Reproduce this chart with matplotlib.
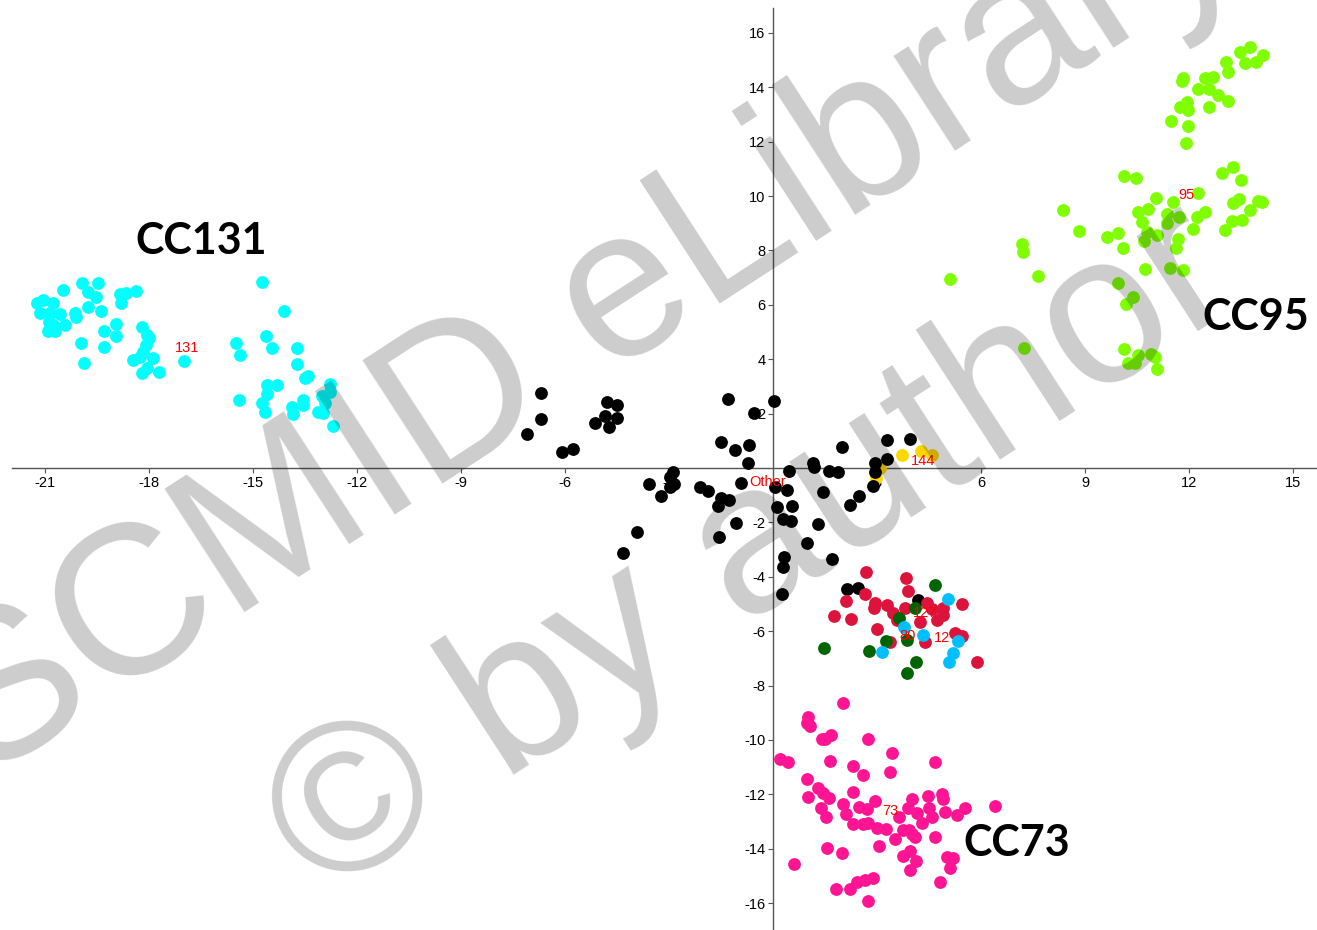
import numpy as np
import matplotlib.pyplot as plt

plt.rcParams['font.family'] = ['Liberation Sans', 'DejaVu Sans']
plt.rcParams['axes.unicode_minus'] = False

# CC131 (cyan)
cc131_x = [-21.23, -21.06, -20.77, -20.48, -19.93, -19.47, -19.76, -19.53, -18.83, -18.66,
           -18.37, -18.81, -21.14, -20.85, -20.57, -20.13, -20.10, -20.88, -20.77, -20.42,
           -20.91, -20.71, -19.76, -19.38, -18.95, -19.30, -18.95, -18.20, -18.06, -18.00,
           -19.96, -19.30, -18.08, -18.17, -18.26, -18.46, -17.88, -19.87, -18.06, -18.20,
           -17.71, -16.99, -14.74, -14.10, -15.49, -15.37, -14.62, -14.45, -13.73, -13.73,
           -13.50, -13.41, -14.59, -14.31, -14.59, -15.40, -14.74, -14.65, -13.87, -13.84,
           -13.56, -13.56, -13.01, -12.78, -12.78, -12.92, -13.12, -12.98, -12.69]
cc131_y = [6.07, 6.18, 6.07, 6.55, 6.80, 6.80, 6.47, 6.29, 6.40, 6.44,
           6.51, 6.07, 5.70, 5.70, 5.66, 5.70, 5.55, 5.37, 5.26, 5.26,
           5.04, 5.04, 5.92, 5.77, 5.30, 5.04, 4.85, 5.19, 4.89, 4.78,
           4.60, 4.45, 4.52, 4.27, 4.08, 3.97, 4.05, 3.86, 3.68, 3.49,
           3.53, 3.94, 6.84, 5.77, 4.60, 4.16, 4.85, 4.41, 4.41, 3.82,
           3.31, 3.38, 3.05, 3.05, 2.72, 2.50, 2.39, 2.06, 2.24, 1.99,
           2.50, 2.32, 2.65, 3.09, 2.80, 2.39, 2.06, 2.02, 1.54]

# "Other" (black)
other_x = [-6.69, -6.69, -7.10, -6.09, -5.77, -4.79, -4.50, -4.85, -4.50, -5.13,
           -4.73, -1.30, 0.03, -0.55, -1.50, -1.10, -0.69, -0.72, -2.88, -2.97,
           -3.58, -2.86, -2.97, -3.23, -2.11, -1.87, -1.50, -1.27, -1.59, -0.92,
           -1.07, -1.56, -3.92, -4.33, 0.46, 0.06, 0.40, 0.12, 0.55, 0.29,
           0.52, 0.32, 0.29, 0.26, 1.15, 1.18, 1.62, 1.87, 1.99, 1.44,
           1.30, 0.98, 1.70, 2.94, 2.94, 3.29, 3.29, 3.95, 2.88, 2.48,
           2.22, 2.13, 2.45, 4.18]
other_y = [2.76, 1.80, 1.25, 0.59, 0.70, 2.43, 2.32, 1.91, 1.84, 1.66,
           1.51, 2.54, 2.46, 2.02, 0.96, 0.66, 0.85, 0.18, -0.15, -0.33,
           -0.59, -0.59, -0.70, -1.03, -0.70, -0.85, -1.10, -1.18, -1.40, -0.55,
           -2.02, -2.54, -2.35, -3.13, -0.11, -0.70, -0.81, -1.43, -1.40, -1.88,
           -1.95, -3.27, -3.64, -4.63, 0.18, 0.04, -0.11, -0.15, 0.77, -0.88,
           -2.06, -2.76, -3.35, 0.18, -0.15, 0.33, 1.03, 1.07, -0.66, -1.03,
           -1.36, -4.45, -4.41, -4.85]

# CC144 (gold)
cc144_x = [3.72, 4.27, 4.59, 3.09, 2.97]
cc144_y = [0.48, 0.63, 0.48, 0.0, -0.37]

# CC127 (crimson)
cc127_x = [2.68, 3.84, 3.89, 2.65, 2.11, 2.94, 3.29, 2.91, 3.46, 3.81, 4.44, 4.59, 4.90,
           5.45, 1.76, 2.25, 3.00, 4.24, 4.73, 4.90, 4.38, 5.25, 5.45, 5.88, 3.37, 3.58]
cc127_y = [-3.82, -4.05, -4.52, -4.63, -4.89, -4.97, -5.04, -5.15, -5.33, -5.15, -4.97, -5.19, -5.15,
           -5.00, -5.44, -5.55, -5.92, -5.66, -5.59, -5.41, -6.40, -6.07, -6.18, -7.13, -6.40, -5.59]

# CC12 (dark green)
cc12_x = [4.67, 4.10, 3.63, 3.26, 1.47, 2.77, 3.87, 4.12, 3.87]
cc12_y = [-4.30, -5.15, -5.52, -6.36, -6.62, -6.73, -6.33, -7.13, -7.54]

# CC80 (sky blue)
cc80_x = [5.05, 3.78, 4.33, 3.14, 5.34, 5.19, 5.08]
cc80_y = [-4.82, -5.85, -6.14, -6.77, -6.36, -6.80, -7.13]

# CC73 (pink)
cc73_x = [2.02, 1.01, 0.98, 1.07, 1.41, 1.50, 1.67, 2.74, 3.43, 0.20, 0.43, 1.64, 2.31,
          4.67, 2.60, 3.37, 0.98, 1.01, 1.30, 1.44, 1.62, 2.31, 2.94, 2.02, 2.11, 2.48,
          2.71, 1.38, 1.53, 2.31, 2.60, 2.74, 3.00, 3.26, 3.63, 3.89, 4.01, 4.15, 4.47,
          4.87, 4.90, 4.50, 4.59, 4.30, 4.96, 5.31, 5.54, 6.40, 3.75, 3.92, 4.01, 4.10,
          3.52, 4.67, 3.06, 3.95, 3.75, 4.12, 3.95, 1.56, 1.99, 0.61, 5.02, 5.19, 5.11,
          4.82, 2.88, 2.65, 2.42, 2.22, 1.82, 2.74]
cc73_y = [-8.64, -9.16, -9.38, -9.49, -9.97, -9.97, -9.82, -9.97, -10.48, -10.70, -10.81, -10.78, -10.96,
          -10.81, -11.29, -11.18, -11.44, -12.10, -11.77, -11.95, -12.14, -11.92, -12.25, -12.36, -12.73, -12.47,
          -12.54, -12.50, -12.84, -13.09, -13.09, -13.06, -13.24, -13.28, -12.84, -12.50, -12.17, -12.69, -12.06,
          -11.99, -12.17, -12.50, -12.84, -13.06, -12.65, -12.76, -12.50, -12.43, -13.31, -13.31, -13.46, -13.57,
          -13.64, -13.57, -13.90, -14.09, -14.27, -14.45, -14.78, -13.98, -14.16, -14.56, -14.31, -14.34, -14.71,
          -15.23, -15.08, -15.15, -15.23, -15.48, -15.48, -15.92]

# CC95 (chartreuse)
cc95_x = [13.47, 13.76, 13.61, 13.93, 14.13, 13.07, 13.12, 11.80, 11.83, 12.46, 12.69, 12.26, 12.58,
          12.84, 13.12, 11.94, 11.74, 11.97, 12.58, 11.48, 11.97, 11.91, 10.12, 10.47, 12.95, 13.27,
          13.50, 12.26, 11.54, 11.05, 10.53, 10.82, 10.64, 11.36, 11.36, 11.71, 12.23, 12.46, 12.11,
          13.27, 13.44, 13.76, 13.99, 14.10, 13.24, 13.53, 13.04, 8.36, 8.83, 9.63, 9.95, 10.10,
          10.70, 10.79, 11.08, 11.68, 11.63, 7.18, 7.21, 7.64, 5.11, 10.73, 11.45, 11.83, 9.95,
          10.38, 10.18, 7.24, 10.12, 10.53, 10.24, 10.44, 10.90, 11.02, 11.08]
cc95_y = [15.30, 15.48, 14.90, 14.93, 15.19, 14.93, 14.56, 14.23, 14.34, 14.34, 14.38, 13.94, 13.94,
          13.72, 13.50, 13.46, 13.28, 13.17, 13.28, 12.76, 12.58, 11.95, 10.74, 10.67, 10.85, 11.07,
          10.59, 10.11, 9.78, 9.93, 9.42, 9.53, 9.05, 9.34, 9.01, 9.23, 9.23, 9.42, 8.79,
          9.75, 9.89, 9.49, 9.82, 9.78, 9.08, 9.12, 8.75, 9.49, 8.72, 8.50, 8.64, 8.09,
          8.35, 8.68, 8.57, 8.42, 8.09, 8.24, 7.94, 7.06, 6.95, 7.32, 7.36, 7.28, 6.80,
          6.29, 6.03, 4.41, 4.38, 4.16, 3.86, 3.86, 4.19, 4.08, 3.64]

# small red cluster labels
label_text = ["131", "95", "144", "Other", "73", "80", "127", "12"]
label_x = [-16.90, 11.94, 4.33, -0.17, 3.37, 3.89, 4.38, 4.87]
label_y = [4.41, 10.04, 0.26, -0.51, -12.61, -6.18, -5.33, -6.25]

# big clonal complex names
cc_names = ["CC131", "CC95", "CC73"]
cc_name_x = [-16.50, 13.93, 7.04]
cc_name_y = [8.35, 5.55, -13.79]

xticks = [-21, -18, -15, -12, -9, -6, -3, 3, 6, 9, 12, 15]
yticks = [-16, -14, -12, -10, -8, -6, -4, -2, 2, 4, 6, 8, 10, 12, 14, 16]

fig = plt.figure(figsize=(13.17, 9.3), dpi=100)
ax = fig.add_axes([0, 0, 1, 1])
ax.set_xlim(-22.30, 15.69)
ax.set_ylim(-16.99, 17.21)

for s in ['top', 'right']:
    ax.spines[s].set_visible(False)
ax.spines['left'].set_position(('data', 0))
ax.spines['bottom'].set_position(('data', 0))
ax.spines['left'].set_bounds(-16.99, 16.92)
ax.spines['bottom'].set_bounds(-21.95, 15.69)
for s in ['left', 'bottom']:
    ax.spines[s].set_color('#555555')
    ax.spines[s].set_linewidth(1)

ax.set_xticks(xticks)
ax.set_yticks(yticks)
ax.tick_params(direction='out', length=3.5, width=0.8, color='#555555',
               labelsize=10.5, pad=2)

dot = 85
ax.scatter(cc131_x, cc131_y, s=dot, c='#00FFFF', linewidths=0, zorder=3)
ax.scatter(cc144_x, cc144_y, s=dot, c='#FFD700', linewidths=0, zorder=3)
ax.scatter(other_x, other_y, s=dot, c='black', linewidths=0, zorder=3)
ax.scatter(cc127_x, cc127_y, s=dot, c='#DC143C', linewidths=0, zorder=3)
ax.scatter(cc12_x, cc12_y, s=dot, c='#006400', linewidths=0, zorder=3)
ax.scatter(cc80_x, cc80_y, s=dot, c='#00BFFF', linewidths=0, zorder=3)
ax.scatter(cc73_x, cc73_y, s=dot, c='#FF1493', linewidths=0, zorder=3)
ax.scatter(cc95_x, cc95_y, s=dot, c='#7FFF00', linewidths=0, zorder=3)

for t, x, y in zip(label_text, label_x, label_y):
    ax.text(x, y, t, color='red', fontsize=10.5, ha='center', va='center', zorder=4)

for t, x, y in zip(cc_names, cc_name_x, cc_name_y):
    ax.text(x, y, t, color='black', fontsize=31, fontweight='bold', family='Lato',
            ha='center', va='center', zorder=4)

# watermark
fig.text(0.445, 0.652, "SCMID eLibrary", fontsize=153, color='black', alpha=0.2,
         rotation=33, rotation_mode='anchor', ha='center', va='center', zorder=10)
fig.text(0.572, 0.405, "\u00a9 by author", fontsize=153, color='black', alpha=0.2,
         rotation=33, rotation_mode='anchor', ha='center', va='center', zorder=10)

fig.savefig('out.png', dpi=100)
